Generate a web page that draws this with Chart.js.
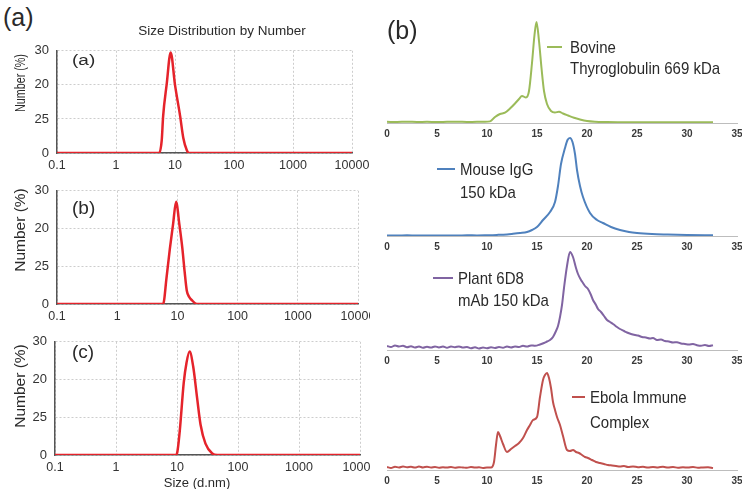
<!DOCTYPE html>
<html><head><meta charset="utf-8">
<script src="https://cdn.jsdelivr.net/npm/chart.js@4.4.1/dist/chart.umd.min.js"></script>
<style>
html,body{margin:0;padding:0;background:#fff;}
body{width:742px;height:489px;position:relative;overflow:hidden;font-family:"Liberation Sans",Arial,sans-serif;}
canvas{position:absolute;}
.t{position:absolute;white-space:nowrap;color:#2a2a2a;line-height:1;transform:translateY(-50%);}
.ts{position:absolute;white-space:nowrap;color:#2a2a2a;line-height:1;transform:translateY(-50%) scaleY(1.12);}
.r{position:absolute;white-space:nowrap;color:#2a2a2a;line-height:1;transform:translate(-50%,-50%) rotate(-90deg);}
.c{position:absolute;white-space:nowrap;color:#2a2a2a;line-height:1;transform:translate(-50%,-50%);}
.mk{position:absolute;height:2px;}
</style></head><body>
<canvas id="la" width="370" height="138" style="left:0;top:35px"></canvas>
<canvas id="lb" width="370" height="149" style="left:0;top:175px"></canvas>
<canvas id="lc" width="370" height="149" style="left:0;top:326px"></canvas>
<canvas id="r1" width="372" height="129" style="left:370px;top:12px"></canvas>
<canvas id="r2" width="372" height="124" style="left:370px;top:130px"></canvas>
<canvas id="r3" width="372" height="123" style="left:370px;top:245px"></canvas>
<canvas id="r4" width="372" height="123" style="left:370px;top:365px"></canvas>

<div class="t" style="left:3px;top:17px;font-size:25px">(a)</div>
<div class="c" style="left:222px;top:31px;font-size:13.5px">Size Distribution by Number</div>
<div class="t" style="left:72px;top:60px;font-size:19px;transform:translateY(-50%) scaleY(0.78)">(a)</div>
<div class="t" style="left:72px;top:207px;font-size:19px">(b)</div>
<div class="t" style="left:72px;top:351px;font-size:19px">(c)</div>
<div class="r" style="left:20px;top:83px;font-size:14.5px;transform:translate(-50%,-50%) rotate(-90deg) scaleX(0.74)">Number (%)</div>
<div class="r" style="left:20px;top:230px;font-size:15.5px">Number (%)</div>
<div class="r" style="left:20px;top:386px;font-size:15.5px">Number (%)</div>
<div class="c" style="left:197px;top:482px;font-size:13px">Size (d.nm)</div>

<div class="t" style="left:387px;top:30px;font-size:25px">(b)</div>
<div class="mk" style="left:547px;top:46px;width:15px;background:#9bbb59"></div>
<div class="ts" style="left:570px;top:47px;font-size:15px">Bovine</div>
<div class="ts" style="left:570px;top:68px;font-size:15px">Thyroglobulin 669 kDa</div>
<div class="mk" style="left:437px;top:168px;width:18px;background:#4f81bd"></div>
<div class="ts" style="left:460px;top:169px;font-size:15px">Mouse IgG</div>
<div class="ts" style="left:460px;top:192px;font-size:15px">150 kDa</div>
<div class="mk" style="left:433px;top:277px;width:20px;background:#8064a2"></div>
<div class="ts" style="left:458px;top:278px;font-size:15px">Plant 6D8</div>
<div class="ts" style="left:458px;top:300px;font-size:15px">mAb 150 kDa</div>
<div class="mk" style="left:572px;top:396px;width:13px;background:#c0504d"></div>
<div class="ts" style="left:590px;top:397px;font-size:15px">Ebola Immune</div>
<div class="ts" style="left:590px;top:422px;font-size:15px">Complex</div>

<script>
// ---- Left: DLS size distribution by number ----
const sizeTicks = [0.1, 1, 10, 100, 1000, 10000];
const sizeTickLabels = ['0.1', '1', '10', '100', '1000', '10000'];
const numberTicks = [0, 10, 20, 30];
const numberTickLabels = ['0', '25', '20', '30'];

const sizeA = [0.1, 1, 4.8, 5.4, 5.95, 6.3, 7.2, 8.45, 10, 12.2, 13.8, 15.8, 17.3, 100, 10000];
const numA  = [0, 0, 0, 0, 3.6, 10.9, 19.9, 29.5, 20, 10.9, 4.5, 0.9, 0, 0, 0];
const sizeB = [0.1, 1, 5.8, 6.6, 7.5, 8.5, 9.5, 10.8, 12.1, 13.2, 14.3, 15.8, 17.4, 21, 100, 10000];
const numB  = [0, 0, 0, 7, 14.7, 21.3, 27.1, 21, 14.7, 8.5, 3.6, 1.8, 1.0, 0, 0, 0];
const sizeC = [0.1, 1, 9.5, 10, 11.1, 12.9, 14.3, 16.1, 18.4, 21.4, 24.3, 29.3, 37.8, 45.7, 1000, 10000];
const numC  = [0, 0, 0, 0.4, 6.4, 19.2, 24.4, 27.4, 23.5, 15.0, 8.1, 3.0, 0.4, 0, 0, 0];

// ---- Right: SEC elution traces ----
const elutionTicks = [0, 5, 10, 15, 20, 25, 30, 35];
const thyroX = [0,1,2,3,4,5,6,7,8,9,9.8,10.3,10.8,11.3,11.8,12.3,12.8,13.2,13.5,13.9,14.2,14.5,14.75,14.95,15.2,15.45,15.7,16,16.4,16.8,17.2,17.6,18.1,18.7,19.3,20,20.8,22,24,26,28,30,32.6];
const thyroY = [1.2,1,1.3,1,1.2,1,1.2,1.3,1,1.2,1.2,1.6,6,9,10.3,14.5,19.5,24,27,25.5,32,60,88,101,82,55,32,19,12,10.5,11.3,9.5,7.5,5.2,3.5,2,1.3,1,0.8,0.8,0.7,0.7,0.7];
const iggX = [0,1,2,3,4,5,6,7,8,9,10,11,12,12.6,13.3,14,14.5,15,15.6,16.3,16.8,17.1,17.4,17.8,18.05,18.3,18.55,18.8,19.0,19.3,19.6,20.3,21,21.6,22.4,23.3,24.2,25,26.5,28,30,32.6];
const iggY = [0.6,0.4,0.7,0.5,0.6,0.4,0.6,0.5,0.7,0.6,0.8,1.1,1.6,2.2,3,4,6,9,16,24,34,50,72,88,96,98,94,82,66,50,39,23,16,13,9,6,4,3,2,1.5,1,0.8];
const plantX = [
 0,0.4,0.8,1.2,1.6,2,2.4,2.8,3.2,3.6,
 4,4.4,4.8,5.2,5.6,6,6.4,6.8,7.2,7.6,
 8,8.4,8.8,9.2,9.6,10,10.4,10.8,11.2,11.6,
 12,12.4,12.8,13.2,13.6,14,14.4,14.8,15.3,15.7,
 16,16.3,16.6,16.9,17.1,17.3,17.5,17.7,18,18.3,
 18.6,18.9,19.1,19.4,19.6,19.8,20.1,20.4,20.6,20.9,
 21.1,21.4,21.7,22,22.3,22.6,23,23.3,23.7,24,
 24.4,24.8,25.1,25.5,25.9,26.3,26.6,27,27.4,27.8,
 28.2,28.6,29,29.4,29.8,30.2,30.6,31,31.4,31.8,
 32.2,32.6];
const plantY = [
 4,3,4.5,3.5,4.2,2.8,3.8,2.5,3.5,2.2,
 3.2,2.4,3.6,2.6,3.4,2.2,3.5,2.8,3.6,2.4,
 3,1.8,2.8,1.6,2.5,1.8,2.8,2,3,2.2,
 3.4,2.6,3.5,3,4.2,3.4,4.6,4.2,5.5,7,
 8.5,10,13,19,24,33,45,62,84,98,
 93,82,76,70,67,64,61,55,50,45,
 41,38,34,30,28,26,23,21,19,17.5,
 16,15,14.5,13,12.5,11.5,12,10,10.5,9,
 8.5,7.5,7.8,6.5,6,5.5,6,4.8,4.2,5,
 4,4.8];
const ebolaX = [
 0,0.4,0.8,1.2,1.6,2,2.4,2.8,3.2,3.6,
 4,4.4,4.8,5.2,5.6,6,6.4,6.8,7.2,7.6,
 8,8.4,8.8,9.2,9.6,10,10.4,10.7,10.9,11.1,
 11.3,11.6,12,12.4,12.8,13.2,13.6,14,14.3,14.6,
 15,15.3,15.6,15.8,16,16.2,16.4,16.6,16.8,17,
 17.3,17.6,18,18.3,18.6,18.9,19.2,19.5,19.8,20.1,
 20.5,20.9,21.3,21.7,22.1,22.5,22.9,23.3,23.7,24.1,
 24.6,25.1,25.6,26.1,26.6,27.1,27.6,28.1,28.6,29.1,
 29.6,30.1,30.6,31.1,31.6,32.1,32.6];
const ebolaY = [
 3,2,3.2,2.5,3.5,2.8,3.2,2.4,3.5,2.6,
 3.2,2.5,3,2.2,2.8,2.4,3,2.2,2.8,2.5,
 2.2,3,2.4,2.8,2,2.6,2.4,8,25,38,
 34,26,18,21,24,27,32,40,45,50,
 53,73,90,95,97,92,82,68,60,53,
 45,34,20,19,20,18,17,15,13,12,
 10,8,7,6,5,4.5,4,3.5,4,3,
 3.5,2.8,3.2,2.5,3,2.6,3.2,2.4,3,2.2,
 2.8,2.4,3,2.2,2.6,2.8,2];

const zip = (xs, ys) => xs.map((x, i) => ({x: x, y: ys[i]}));

function leftChart(id, xs, ys, box) {
  new Chart(document.getElementById(id), {
    type: 'line',
    data: {datasets: [{data: zip(xs, ys), borderColor: '#e5232b', borderWidth: 2.5,
      pointRadius: 0, cubicInterpolationMode: 'monotone', fill: false}]},
    options: {
      responsive: false, animation: false, events: [],
      layout: {padding: {left: 0, right: box.padR, top: box.padT, bottom: 0}},
      plugins: {legend: {display: false}, tooltip: {enabled: false}},
      scales: {
        x: {type: 'logarithmic', min: 0.1, max: 10000,
          afterBuildTicks: s => { s.ticks = sizeTicks.map(v => ({value: v})); },
          afterFit: s => { s.paddingLeft = 0; s.paddingRight = 0; s.height = 20; },
          ticks: {autoSkip: false, maxRotation: 0, padding: 5, color: '#333',
            font: {family: 'Liberation Sans', size: 12.5},
            callback: v => { const i = sizeTicks.indexOf(v); return i >= 0 ? sizeTickLabels[i] : ''; }},
          grid: {color: '#cdcdcd', lineWidth: 1, drawTicks: false},
          border: {color: '#555', width: 1.5, dash: [2, 2]}},
        y: {min: 0, max: 30,
          afterBuildTicks: s => { s.ticks = numberTicks.map(v => ({value: v})); },
          afterFit: s => { s.width = box.left; },
          ticks: {padding: 8, color: '#333', font: {family: 'Liberation Sans', size: 13},
            callback: v => { const i = numberTicks.indexOf(v); return i >= 0 ? numberTickLabels[i] : ''; }},
          grid: {color: '#cdcdcd', lineWidth: 1, drawTicks: false},
          border: {color: '#555', width: 1.5, dash: [2, 2]}}
      }
    }
  });
}

function rightChart(id, xs, ys, color, yMax) {
  new Chart(document.getElementById(id), {
    type: 'line',
    data: {datasets: [{data: zip(xs, ys), borderColor: color, borderWidth: 2,
      pointRadius: 0, cubicInterpolationMode: 'monotone', fill: false}]},
    options: {
      responsive: false, animation: false, events: [],
      layout: {padding: {left: 17, right: 5, top: 0, bottom: 0}},
      plugins: {legend: {display: false}, tooltip: {enabled: false}},
      scales: {
        x: {type: 'linear', min: 0, max: 35,
          afterBuildTicks: s => { s.ticks = elutionTicks.map(v => ({value: v})); },
          afterFit: s => { s.paddingLeft = 0; s.paddingRight = 0; s.height = 18; },
          ticks: {autoSkip: false, maxRotation: 0, padding: 5, color: '#3a3a3a',
            font: {family: 'Liberation Sans', size: 10, weight: 'bold'}},
          grid: {display: false, drawTicks: false},
          border: {color: '#bdbdbd', width: 1}},
        y: {display: false, min: 0, max: yMax}
      }
    }
  });
}

leftChart('la', sizeA, numA, {left: 57, padR: 18, padT: 7});
leftChart('lb', sizeB, numB, {left: 57, padR: 12, padT: 12});
leftChart('lc', sizeC, numC, {left: 55, padR: 10, padT: 12});

rightChart('r1', thyroX, thyroY, '#9bbb59', 111);
rightChart('r2', iggX, iggY, '#4f81bd', 106);
rightChart('r3', plantX, plantY, '#8064a2', 105);
rightChart('r4', ebolaX, ebolaY, '#c0504d', 105);
</script>
</body></html>
